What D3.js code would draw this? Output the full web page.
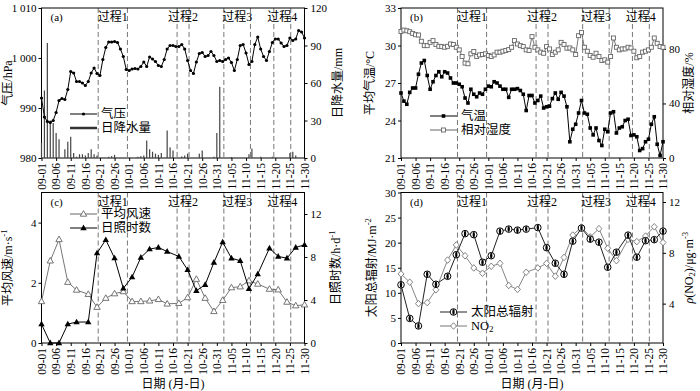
<!DOCTYPE html>
<html><head><meta charset="utf-8">
<script src="https://cdn.jsdelivr.net/npm/d3@7"></script>
<style>
body{margin:0;background:#fff}
svg text{font-family:"Liberation Serif","Times New Roman","Noto Sans CJK SC",serif;fill:#000}
</style>
</head><body>
<svg id="chart" width="700" height="391"></svg>
<script>
// ---------------- DATA ----------------
const tickLabels = ["09-01","09-06","09-11","09-16","09-21","09-26","10-01","10-06","10-11","10-16","10-21","10-26","10-31","11-05","11-10","11-15","11-20","11-25","11-30"];
const processNames = ["过程1","过程2","过程3","过程4"];
// process boundaries (days after 09-01)
const boundaryDays = [19.4, 29.4, 46.4, 50.5, 62.4, 71.5, 79.5, 85.3];

// daily series 09-01 .. 11-30 (91 days)
const pressure = [
992.0,988.2,987.3,987.1,987.5,989.1,991.5,991.9,991.7,993.7,
997.3,997.0,995.3,995.3,995.0,994.5,995.3,997.0,998.0,996.9,
996.5,999.7,1002.1,1003.2,1003.2,1003.3,1003.1,1001.8,1000.3,997.7,
997.5,997.8,997.9,997.8,998.3,999.2,998.3,1000.2,999.8,999.3,
998.5,998.3,999.7,1001.8,1002.5,1002.5,1002.3,1002.3,1002.7,1001.8,
999.5,997.5,996.9,999.2,1000.9,1001.1,1000.3,1000.5,1001.3,1000.5,
999.3,999.5,999.3,999.7,1000.0,999.1,997.5,999.7,1002.5,1002.7,
1001.0,998.7,999.3,1002.7,1004.2,1001.8,1000.3,999.5,1001.3,1003.1,
1003.8,1003.8,1003.0,1002.3,1002.5,1004.0,1003.5,1003.8,1005.5,1005.2,
1004.0];
const precipitation = [
12,54,92,30,28,20,15,0,7,13,
17,4,1,3,3,2,4,7,3,2,
0,0,0,1,1.5,2.5,0,0,0,0,
0,0,0,1,1.5,2,14,7,5,3.5,
2.5,4,0,22,8.5,6,0,0,1.3,2,
3.5,0,0,0,3.5,6,0,0,0,1,
20,57,0,0,0,0.8,0,0,0,0,
0,3,7.5,0,0,1,0,0,0,1,
0,0,0,0,0,4,5,2,0,0,
0];
const temperature = [
26.2,25.55,25.3,26.25,26.6,26.6,27.7,28.6,28.8,27.6,
26.5,27.1,27.6,27.9,27.5,27.9,27.8,27.4,27.0,27.0,
26.9,26.7,25.8,25.4,26.5,26.1,25.9,26.2,26.1,26.5,
26.75,26.7,27.1,27.0,26.75,26.5,26.5,25.85,26.5,26.5,
26.55,26.4,26.1,24.8,26.0,26.0,25.4,25.6,25.95,25.0,
25.1,25.15,25.75,26.2,25.7,26.25,25.95,25.1,22.3,23.3,
23.7,24.6,25.6,24.6,24.5,23.4,22.85,23.4,22.4,22.0,
23.3,23.1,24.6,24.7,23.0,23.4,23.5,24.0,24.1,22.8,
22.85,22.7,21.6,21.75,22.3,22.5,23.7,24.3,22.1,21.2,
22.3];
const humidity = [
92.8,93.8,93.3,92.6,91.4,90.4,90.2,85.6,82.4,82.4,
84.8,86.1,83.2,81.9,81.7,81.2,81.9,83.6,83.2,81.2,
79.3,74.4,69.6,69.1,76.4,78.1,74.4,75.6,75.9,76.4,
75.2,74.4,75.6,77.6,77.6,78.3,78.8,79.5,81.2,86.1,
83.6,82.4,81.7,79.3,78.8,89.0,81.2,79.3,77.6,76.8,
81.7,80.0,75.9,77.6,79.3,84.8,83.2,80.5,80.7,79.3,
75.9,89.7,92.1,81.2,78.3,75.2,73.9,76.8,74.4,71.5,
72.0,70.3,74.4,88.0,81.2,79.3,80.0,80.0,81.2,80.7,
78.3,73.5,74.4,77.6,78.3,79.3,81.2,88.0,84.1,81.7,
81.2];

// sampled series (30 dates)
const sampleDates = ["09-01","09-04","09-07","09-10","09-13","09-17","09-20","09-23","09-26","09-29",
"10-02","10-05","10-08","10-11","10-14","10-18","10-21","10-24","10-27","10-30",
"11-02","11-05","11-08","11-11","11-14","11-18","11-21","11-24","11-27","11-30"];
const windSpeed = [1.38,2.73,3.44,2.02,1.76,1.62,1.19,1.49,1.64,1.71,
1.38,1.38,1.40,1.45,1.30,1.32,1.51,2.12,1.49,1.05,
1.42,1.84,1.87,2.07,1.96,1.79,1.77,1.36,1.24,1.27];
const sunshine = [1.76,0,0,1.76,1.95,1.95,8.36,9.6,7.9,5.08,
6.13,7.96,8.73,8.89,8.51,8.05,6.81,4.86,5.42,7.49,
9.38,7.89,7.65,5.05,6.41,8.82,8.05,7.89,8.89,9.13];
const radiation = [11.6,4.9,3.4,13.7,11.7,13.3,17.6,21.8,21.6,16.1,
17.4,22.3,22.7,22.5,22.7,23.0,19.0,15.9,13.7,20.3,
22.9,20.7,20.1,15.1,18.1,21.5,17.1,20.4,20.6,22.3];
const no2 = [6.34,5.69,4.0,4.08,5.09,7.43,8.62,7.77,6.81,6.39,
6.94,7.17,5.43,5.12,6.47,6.81,7.17,6.16,7.64,9.40,
10.03,9.25,9.90,8.36,7.38,9.06,8.88,9.32,10.05,8.81];

// ---------------- HELPERS ----------------
const svg = d3.select("#chart");
const parse = d3.timeParse("%Y-%m-%d");
const base = parse("2017-09-01");
const dayOf = s => Math.round((parse("2017-" + s) - base) / 864e5);
const tickDays = tickLabels.map(dayOf);
const sampleDays = sampleDates.map(dayOf);

function rich(textSel, parts) {
  let shift = 0;
  parts.forEach(p => {
    const t = textSel.append("tspan").text(p.t);
    let target = p.sup ? -4 : p.sub ? 3 : 0;
    if (target !== shift) { t.attr("dy", target - shift); shift = target; }
    if (p.sup || p.sub) t.attr("font-size", "0.72em");
    if (p.it) t.attr("font-style", "italic");
  });
}

function makePanel(cfg) {
  const g = svg.append("g");
  const x = d3.scaleLinear().domain([0, 90]).range([cfg.x0, cfg.x1]);
  const yL = d3.scaleLinear().domain(cfg.lDom).range([cfg.yb, cfg.yt]);
  const yR = d3.scaleLinear().domain(cfg.rDom).range([cfg.yb, cfg.yt]);

  g.selectAll("line.bd").data(boundaryDays).join("line")
    .attr("x1", d => x(d)).attr("x2", d => x(d))
    .attr("y1", cfg.yt).attr("y2", cfg.yb)
    .attr("stroke", "#777").attr("stroke-width", 1).attr("stroke-dasharray", "5,3");
  g.selectAll("text.pn").data(processNames).join("text")
    .attr("x", (d, i) => (x(boundaryDays[2 * i]) + x(boundaryDays[2 * i + 1])) / 2)
    .attr("y", cfg.yt + 9).attr("text-anchor", "middle").attr("dominant-baseline", "central")
    .attr("font-size", 12).text(d => d);
  g.append("text").attr("x", cfg.x0 + 9).attr("y", cfg.yt + 9).attr("dominant-baseline", "central")
    .attr("font-size", 11).text(cfg.letter);

  const la = g.append("g").attr("transform", `translate(${cfg.x0},0)`)
    .call(d3.axisLeft(yL).tickValues(cfg.lTicks).tickSize(3).tickPadding(2).tickFormat(cfg.lFmt || (d => d)));
  const ra = g.append("g").attr("transform", `translate(${cfg.x1},0)`)
    .call(d3.axisRight(yR).tickValues(cfg.rTicks).tickSize(3).tickPadding(3).tickFormat(d => d));
  const ba = g.append("g").attr("transform", `translate(0,${cfg.yb})`)
    .call(d3.axisBottom(x).tickValues(tickDays).tickSize(3).tickFormat((d, i) => tickLabels[i]));
  [la, ra, ba].forEach(a => {
    a.select(".domain").remove();
    a.selectAll("text").attr("font-size", 11).attr("font-family", '"Liberation Serif",serif');
  });
  ba.selectAll("text")
    .attr("font-size", 11.5)
    .attr("transform", "rotate(-90)").attr("text-anchor", "end")
    .attr("x", -5).attr("y", 0).attr("dy", "0.33em");

  g.append("rect").attr("x", cfg.x0).attr("y", cfg.yt)
    .attr("width", cfg.x1 - cfg.x0).attr("height", cfg.yb - cfg.yt)
    .attr("fill", "none").attr("stroke", "#000").attr("stroke-width", 1);

  const lt = g.append("text").attr("transform", `translate(${cfg.lTitleX},${(cfg.yt + cfg.yb) / 2}) rotate(-90)`)
    .attr("text-anchor", "middle").attr("dominant-baseline", "central").attr("font-size", 12);
  rich(lt, cfg.lTitle);
  const rt = g.append("text").attr("transform", `translate(${cfg.rTitleX},${(cfg.yt + cfg.yb) / 2}) rotate(-90)`)
    .attr("text-anchor", "middle").attr("dominant-baseline", "central").attr("font-size", 12);
  rich(rt, cfg.rTitle);

  return { g, x, yL, yR };
}

function legend(g, lx, ly, items) {
  items.forEach((it, i) => {
    const y = ly + i * 14;
    g.append("line").attr("x1", lx).attr("x2", lx + 27).attr("y1", y).attr("y2", y)
      .attr("stroke", it.color).attr("stroke-width", it.width || 1);
    if (it.marker) it.marker(g.append("g").attr("transform", `translate(${lx + 13.5},${y})`));
    const t = g.append("text").attr("x", lx + 31).attr("y", y).attr("dominant-baseline", "central")
      .attr("font-size", 12.5);
    rich(t, it.label);
  });
}

const dot = (sel) => sel.append("circle").attr("r", 1.6).attr("fill", "#000");
const fSquare = (sel) => sel.append("rect").attr("x", -1.8).attr("y", -1.8).attr("width", 3.6).attr("height", 3.6).attr("fill", "#000");
const oSquare = (sel) => sel.append("rect").attr("x", -2).attr("y", -2).attr("width", 4).attr("height", 4).attr("fill", "#fff").attr("stroke", "#666").attr("stroke-width", 0.9);
const triPath = "M0,-3.4L3.2,2.2L-3.2,2.2Z";
const oTri = (sel) => sel.append("path").attr("d", triPath).attr("fill", "#fff").attr("stroke", "#666").attr("stroke-width", 0.9);
const fTri = (sel) => sel.append("path").attr("d", triPath).attr("fill", "#000");
const halfCircle = (sel) => {
  sel.append("circle").attr("r", 3.3).attr("fill", "#fff").attr("stroke", "#000").attr("stroke-width", 1);
  sel.append("ellipse").attr("rx", 1.2).attr("ry", 3.0).attr("fill", "#000");
};
const oDiamond = (sel) => sel.append("path").attr("d", "M0,-3.3L3,0L0,3.3L-3,0Z").attr("fill", "#fff").attr("stroke", "#777").attr("stroke-width", 0.9);

function series(g, xs, ys, color, marker, width) {
  const pts = xs.map((d, i) => [d, ys[i]]);
  g.append("path").attr("d", d3.line()(pts)).attr("fill", "none").attr("stroke", color).attr("stroke-width", width || 1);
  pts.forEach(p => marker(g.append("g").attr("transform", `translate(${p[0]},${p[1]})`)));
}

const days91 = d3.range(pressure.length);

// ---------------- PANEL A ----------------
{
  const P = makePanel({
    x0: 41.5, x1: 304.5, yt: 8, yb: 158, letter: "(a)",
    lDom: [980, 1010], lTicks: [980, 990, 1000, 1010],
    lFmt: d => d >= 1000 ? "1 " + String(d).slice(1) : String(d),
    rDom: [0, 120], rTicks: [0, 30, 60, 90, 120],
    lTitleX: 8, rTitleX: 338,
    lTitle: [{ t: "气压/hPa" }], rTitle: [{ t: "日降水量/mm" }]
  });
  P.g.selectAll("rect.bar").data(precipitation).join("rect")
    .attr("x", (d, i) => P.x(i) - 0.6).attr("width", 1.2)
    .attr("y", d => P.yR(d)).attr("height", d => P.yR(0) - P.yR(d))
    .attr("fill", "#444");
  series(P.g, days91.map(P.x), pressure.map(P.yL), "#000", dot);
  legend(P.g, 70, 114, [
    { label: [{ t: "气压" }], color: "#000", marker: dot },
    { label: [{ t: "日降水量" }], color: "#333", width: 2.5 }
  ]);
}

// ---------------- PANEL B ----------------
{
  const P = makePanel({
    x0: 401, x1: 663, yt: 8, yb: 158, letter: "(b)",
    lDom: [21, 33], lTicks: [21, 24, 27, 30, 33],
    rDom: [0, 110], rTicks: [0, 40, 80],
    lTitleX: 370, rTitleX: 689,
    lTitle: [{ t: "平均气温/°C" }], rTitle: [{ t: "相对湿度/%" }]
  });
  series(P.g, days91.map(P.x), humidity.map(P.yR), "#666", oSquare, 0.9);
  series(P.g, days91.map(P.x), temperature.map(P.yL), "#000", fSquare);
  legend(P.g, 430, 116, [
    { label: [{ t: "气温" }], color: "#000", marker: fSquare },
    { label: [{ t: "相对湿度" }], color: "#666", marker: oSquare }
  ]);
}

// ---------------- PANEL C ----------------
{
  const P = makePanel({
    x0: 41.5, x1: 304.5, yt: 192.5, yb: 343, letter: "(c)",
    lDom: [0, 5], lTicks: [0, 2, 4],
    rDom: [0, 14], rTicks: [0, 4, 8, 12],
    lTitleX: 8, rTitleX: 336,
    lTitle: [{ t: "平均风速/m·s" }, { t: "-1", sup: true }],
    rTitle: [{ t: "日照时数/h·d" }, { t: "-1", sup: true }]
  });
  series(P.g, sampleDays.map(P.x), windSpeed.map(P.yL), "#666", oTri, 0.9);
  series(P.g, sampleDays.map(P.x), sunshine.map(P.yR), "#000", fTri);
  legend(P.g, 70, 214, [
    { label: [{ t: "平均风速" }], color: "#666", marker: oTri },
    { label: [{ t: "日照时数" }], color: "#000", marker: fTri }
  ]);
  P.g.append("text").attr("x", (41.5 + 304.5) / 2).attr("y", 384).attr("text-anchor", "middle")
    .attr("dominant-baseline", "central").attr("font-size", 12).text("日期 (月-日)");
}

// ---------------- PANEL D ----------------
{
  const P = makePanel({
    x0: 401, x1: 663, yt: 192.5, yb: 343, letter: "(d)",
    lDom: [0, 30], lTicks: [0, 5, 10, 15, 20, 25, 30],
    rDom: [0.9, 12.75], rTicks: [4, 8, 12],
    lTitleX: 372, rTitleX: 689,
    lTitle: [{ t: "太阳总辐射/MJ·m" }, { t: "-2", sup: true }],
    rTitle: [{ t: "ρ", it: true }, { t: "(NO" }, { t: "2", sub: true }, { t: ")/μg·m" }, { t: "-3", sup: true }]
  });
  series(P.g, sampleDays.map(P.x), no2.map(P.yR), "#777", oDiamond, 0.9);
  series(P.g, sampleDays.map(P.x), radiation.map(P.yL), "#222", halfCircle);
  legend(P.g, 440, 312, [
    { label: [{ t: "太阳总辐射" }], color: "#222", marker: halfCircle },
    { label: [{ t: "NO" }, { t: "2", sub: true }], color: "#777", marker: oDiamond }
  ]);
  P.g.append("text").attr("x", (401 + 663) / 2).attr("y", 384).attr("text-anchor", "middle")
    .attr("dominant-baseline", "central").attr("font-size", 12).text("日期 (月-日)");
}
</script>
</body></html>
